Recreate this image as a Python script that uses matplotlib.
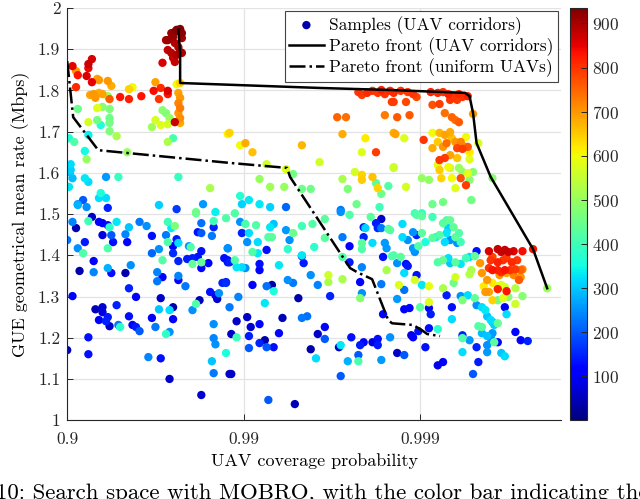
import matplotlib
matplotlib.use('Agg')
import matplotlib.pyplot as plt
import numpy as np

plt.rcParams['font.family'] = ['cmr10', 'DejaVu Serif']
plt.rcParams['mathtext.fontset'] = 'cm'
plt.rcParams['axes.formatter.use_mathtext'] = True

# samples: (coverage "nines" = -log10(1 - p), GUE rate in Mbps, iteration)
samples_top_left = [
    (1.56, 1.922, 900), (1.57, 1.922, 910), (1.59, 1.939, 915), (1.61, 1.942, 920), (1.62, 1.947, 930),
    (1.64, 1.949, 935), (1.65, 1.939, 925), (1.65, 1.927, 905), (1.61, 1.915, 890), (1.57, 1.898, 880),
    (1.59, 1.891, 885), (1.60, 1.879, 870), (1.61, 1.869, 875), (1.62, 1.886, 895), (1.64, 1.893, 905),
    (1.65, 1.891, 900), (1.54, 1.867, 860), (1.60, 1.930, 910), (1.63, 1.905, 890),
    (1.03, 1.859, 850), (1.14, 1.876, 860), (1.12, 1.864, 870), (1.12, 1.854, 845), (1.06, 1.837, 830),
    (1.11, 1.835, 860), (1.14, 1.820, 850), (1.05, 1.808, 810), (1.05, 1.847, 700), (1.17, 1.828, 690),
    (1.18, 1.825, 700), (1.23, 1.823, 700), (1.25, 1.811, 680), (1.13, 1.789, 690), (1.15, 1.791, 700),
    (1.18, 1.794, 680), (1.20, 1.791, 690), (1.16, 1.782, 700), (1.24, 1.779, 760), (1.30, 1.784, 830),
    (1.35, 1.779, 820), (1.42, 1.786, 830), (1.49, 1.799, 840), (1.53, 1.806, 810), (1.57, 1.799, 860),
    (1.57, 1.791, 830), (1.52, 1.779, 800), (1.50, 1.820, 690), (1.37, 1.808, 600), (1.35, 1.803, 640),
    (1.62, 1.815, 600), (1.64, 1.818, 640), (1.63, 1.794, 690), (1.64, 1.782, 700), (1.63, 1.769, 720),
    (1.64, 1.757, 730), (1.63, 1.745, 700), (1.64, 1.733, 710), (1.64, 1.721, 680), (1.61, 1.723, 880),
    (1.17, 1.757, 580), (1.20, 1.760, 480), (1.24, 1.755, 470), (1.06, 1.755, 450), (1.12, 1.723, 570),
    (1.17, 1.728, 460), (1.19, 1.716, 360), (1.24, 1.733, 450), (1.24, 1.721, 460), (1.24, 1.701, 470),
    (1.28, 1.689, 520), (1.23, 1.786, 510), (1.54, 1.752, 480), (1.56, 1.745, 470), (1.50, 1.728, 570),
    (1.48, 1.711, 510), (1.53, 1.716, 580), (1.57, 1.718, 570), (1.58, 1.733, 500), (1.57, 1.675, 520),
    (1.60, 1.684, 410), (1.34, 1.650, 500),
    (1.01, 1.684, 360), (1.04, 1.675, 420), (1.12, 1.692, 340), (1.10, 1.653, 350), (1.11, 1.633, 500),
    (1.02, 1.621, 320), (1.01, 1.602, 300), (1.02, 1.607, 310), (1.03, 1.587, 290), (1.10, 1.587, 330),
    (1.12, 1.578, 320), (1.01, 1.566, 330), (1.22, 1.590, 260), (1.29, 1.590, 390), (1.63, 1.590, 390),
    (1.81, 1.563, 520), (1.06, 1.524, 250), (1.09, 1.534, 200), (1.06, 1.522, 280), (1.11, 1.517, 250),
    (1.19, 1.551, 360), (1.18, 1.539, 320), (1.22, 1.539, 320), (1.23, 1.515, 150), (1.52, 1.522, 310),
    (1.62, 1.512, 170), (1.73, 1.505, 450), (1.77, 1.524, 260), (1.84, 1.505, 340), (1.91, 1.694, 610),
]

samples_top_mid = [
    (2.65, 1.796, 800), (2.67, 1.789, 790), (2.70, 1.794, 810), (2.73, 1.799, 800), (2.76, 1.794, 790),
    (2.78, 1.801, 820), (2.80, 1.791, 800), (2.83, 1.799, 810), (2.84, 1.772, 790), (2.53, 1.735, 750),
    (2.58, 1.735, 740), (2.80, 1.740, 730), (2.85, 1.697, 680), (2.56, 1.694, 680), (2.69, 1.684, 620),
    (2.67, 1.650, 580), (2.75, 1.650, 790), (2.33, 1.667, 670), (2.43, 1.626, 560), (1.92, 1.697, 640),
    (1.98, 1.667, 600), (2.01, 1.672, 680), (2.05, 1.650, 660), (2.13, 1.621, 560), (2.24, 1.609, 580),
    (2.28, 1.597, 460), (2.09, 1.585, 500), (2.15, 1.566, 510), (2.23, 1.566, 500), (2.33, 1.561, 450),
    (2.38, 1.561, 450), (2.56, 1.585, 520), (2.59, 1.561, 470), (2.63, 1.602, 570), (2.67, 1.595, 640),
    (2.67, 1.583, 650), (2.73, 1.590, 660), (2.76, 1.563, 640), (2.75, 1.575, 430), (2.82, 1.568, 420),
    (2.78, 1.549, 450), (2.64, 1.524, 450), (2.85, 1.614, 560), (1.98, 1.544, 370), (2.03, 1.534, 330),
    (1.99, 1.524, 310), (2.09, 1.524, 330), (2.15, 1.517, 310), (2.24, 1.517, 210), (2.55, 1.510, 230),
    (2.77, 1.517, 400),
]

samples_top_right = [
    (2.85, 1.794, 810), (2.89, 1.799, 800), (2.93, 1.796, 790), (2.96, 1.791, 800), (2.98, 1.784, 780),
    (3.06, 1.796, 820), (3.10, 1.794, 810), (3.13, 1.796, 800), (3.16, 1.791, 820), (3.19, 1.784, 800),
    (3.22, 1.791, 810), (3.24, 1.784, 800), (3.27, 1.786, 820), (2.85, 1.772, 790), (2.92, 1.772, 780),
    (3.07, 1.765, 770), (3.11, 1.767, 790), (3.17, 1.777, 800), (3.21, 1.777, 790),
    (2.87, 1.735, 760), (2.94, 1.740, 760), (3.14, 1.745, 740), (3.18, 1.735, 750), (3.20, 1.728, 740),
    (3.22, 1.723, 760), (3.30, 1.743, 700), (2.86, 1.694, 690), (2.91, 1.684, 580), (3.02, 1.680, 800),
    (3.07, 1.697, 600), (3.11, 1.697, 670), (3.14, 1.692, 690), (3.17, 1.699, 680), (3.18, 1.684, 660),
    (3.20, 1.675, 700), (3.23, 1.675, 720), (3.24, 1.667, 680), (3.26, 1.687, 600), (3.10, 1.675, 650),
    (3.13, 1.663, 700), (3.15, 1.672, 740), (3.21, 1.660, 780), (3.24, 1.658, 790), (3.27, 1.663, 760),
    (3.28, 1.650, 620), (3.07, 1.660, 680), (3.14, 1.636, 790), (3.11, 1.631, 800), (3.17, 1.643, 690),
    (3.21, 1.636, 660), (3.28, 1.633, 580), (3.10, 1.619, 580), (3.16, 1.614, 600), (3.17, 1.612, 540),
    (3.22, 1.612, 500), (3.24, 1.602, 480), (3.27, 1.599, 580), (3.30, 1.602, 480), (3.11, 1.607, 650),
    (2.85, 1.612, 520), (3.01, 1.587, 500), (3.05, 1.583, 490), (3.12, 1.587, 640), (3.18, 1.587, 600),
    (3.23, 1.587, 770), (3.28, 1.583, 480), (3.20, 1.563, 580), (3.26, 1.570, 790), (2.92, 1.566, 570),
    (3.41, 1.587, 480), (3.13, 1.529, 460), (3.07, 1.524, 450), (2.97, 1.502, 400), (3.01, 1.502, 380),
    (3.33, 1.672, 570), (3.29, 1.534, 460),
]

samples_low_left = [
    (1.03, 1.481, 240), (1.05, 1.466, 40), (1.00, 1.437, 230), (1.06, 1.417, 250), (1.10, 1.432, 140),
    (1.09, 1.405, 420), (1.14, 1.493, 60), (1.12, 1.483, 400), (1.18, 1.481, 110), (1.20, 1.478, 100),
    (1.23, 1.473, 130), (1.24, 1.468, 380), (1.28, 1.481, 330), (1.20, 1.449, 80), (1.25, 1.449, 200),
    (1.26, 1.432, 130), (1.23, 1.417, 420), (1.33, 1.451, 240), (1.35, 1.468, 300), (1.34, 1.432, 120),
    (1.41, 1.481, 230), (1.45, 1.471, 250), (1.48, 1.447, 130), (1.48, 1.405, 210), (1.52, 1.415, 250),
    (1.56, 1.449, 230), (1.57, 1.481, 400), (1.61, 1.471, 470), (1.59, 1.466, 330), (1.62, 1.439, 140),
    (1.63, 1.430, 320), (1.57, 1.432, 420), (1.60, 1.422, 120), (1.60, 1.405, 160), (1.54, 1.388, 420),
    (1.63, 1.386, 150), (1.68, 1.391, 140), (1.71, 1.393, 140), (1.74, 1.396, 130), (1.69, 1.422, 250),
    (1.70, 1.420, 420), (1.71, 1.379, 440), (1.76, 1.383, 440), (1.76, 1.410, 130), (1.76, 1.369, 120),
    (1.80, 1.381, 120), (1.74, 1.456, 130), (1.76, 1.454, 200), (1.76, 1.478, 220), (1.83, 1.468, 150),
    (1.82, 1.447, 230), (1.83, 1.483, 400), (1.90, 1.490, 420), (1.73, 1.502, 440), (1.91, 1.417, 250),
    (1.89, 1.393, 130), (1.91, 1.383, 130), (1.07, 1.362, 40), (1.15, 1.359, 240), (1.15, 1.386, 110),
    (1.23, 1.369, 280), (1.25, 1.357, 130), (1.33, 1.357, 40), (1.36, 1.376, 250), (1.35, 1.320, 150),
    (1.39, 1.299, 110), (1.28, 1.279, 150), (1.16, 1.269, 50), (1.20, 1.274, 70), (1.20, 1.262, 80),
    (1.18, 1.243, 100), (1.23, 1.250, 140), (1.22, 1.240, 150), (1.24, 1.228, 60), (1.29, 1.231, 230),
    (1.30, 1.226, 380), (1.35, 1.252, 130), (1.37, 1.231, 110), (1.39, 1.226, 140), (1.41, 1.216, 200),
    (1.03, 1.301, 110), (1.53, 1.296, 60), (1.52, 1.269, 300), (1.48, 1.248, 110), (1.50, 1.226, 230),
    (1.60, 1.274, 40), (1.58, 1.267, 320), (1.60, 1.245, 120), (1.56, 1.209, 380), (1.58, 1.214, 250),
    (1.51, 1.337, 230), (1.54, 1.347, 120), (1.51, 1.359, 240), (1.63, 1.350, 240), (1.63, 1.340, 120),
    (1.67, 1.325, 230), (1.81, 1.311, 130), (1.84, 1.303, 80), (1.85, 1.294, 60), (1.86, 1.308, 250),
    (1.88, 1.333, 150), (1.90, 1.333, 160), (1.75, 1.291, 50), (1.73, 1.282, 420), (1.71, 1.267, 250),
    (1.83, 1.233, 250), (1.83, 1.199, 240), (1.84, 1.184, 250), (1.90, 1.163, 360), (1.82, 1.143, 300),
    (1.83, 1.114, 230), (1.00, 1.170, 50), (1.12, 1.201, 130), (1.12, 1.160, 130), (1.46, 1.153, 240),
    (1.53, 1.150, 130), (1.58, 1.100, 60), (1.76, 1.061, 70), (1.92, 1.112, 60),
]

samples_low_mid = [
    (1.95, 1.502, 420), (1.98, 1.481, 250), (2.01, 1.476, 410), (2.07, 1.473, 420), (1.99, 1.454, 150),
    (2.03, 1.454, 320), (2.02, 1.432, 250), (2.08, 1.432, 320), (2.15, 1.468, 330), (2.17, 1.476, 300),
    (2.14, 1.444, 420), (2.16, 1.444, 430), (2.24, 1.461, 260), (2.28, 1.454, 450), (2.26, 1.437, 250),
    (2.33, 1.471, 400), (2.39, 1.476, 420), (2.46, 1.488, 430), (2.46, 1.442, 430), (2.40, 1.420, 380),
    (2.25, 1.415, 380), (2.13, 1.413, 130), (2.05, 1.408, 420), (2.08, 1.405, 330), (1.91, 1.417, 230),
    (1.91, 1.388, 120), (1.92, 1.383, 150), (1.95, 1.388, 420), (1.96, 1.371, 330), (1.99, 1.371, 320),
    (2.01, 1.369, 250), (2.09, 1.379, 130), (2.09, 1.364, 120), (2.20, 1.376, 330), (2.33, 1.398, 130),
    (2.33, 1.400, 330), (2.34, 1.381, 140), (2.38, 1.352, 250), (2.42, 1.328, 240), (2.49, 1.301, 150),
    (2.48, 1.352, 560), (2.48, 1.335, 520), (2.56, 1.342, 520), (2.05, 1.328, 120), (2.13, 1.325, 220),
    (2.16, 1.328, 40), (2.17, 1.313, 360), (2.25, 1.340, 250), (2.28, 1.333, 230), (2.31, 1.296, 40),
    (1.90, 1.335, 130), (1.97, 1.299, 240), (1.92, 1.274, 230), (2.12, 1.284, 330), (2.02, 1.250, 60),
    (1.96, 1.240, 60), (2.04, 1.226, 70), (2.09, 1.233, 120), (2.22, 1.248, 50), (2.33, 1.248, 230),
    (2.36, 1.252, 220), (2.46, 1.226, 120), (1.93, 1.209, 60), (1.96, 1.201, 400), (2.03, 1.204, 140),
    (2.12, 1.194, 40), (2.09, 1.187, 150), (2.13, 1.177, 200), (2.17, 1.177, 130), (2.03, 1.175, 200),
    (2.20, 1.211, 120), (2.42, 1.209, 60), (2.46, 1.197, 200), (2.38, 1.172, 40), (2.41, 1.150, 320),
    (2.54, 1.177, 60), (2.55, 1.182, 330), (2.61, 1.201, 130), (2.66, 1.182, 140), (2.68, 1.189, 120),
    (2.73, 1.189, 80), (2.76, 1.182, 140), (2.76, 1.197, 130), (2.65, 1.158, 200), (2.65, 1.143, 410),
    (2.59, 1.143, 280), (2.78, 1.146, 260), (2.83, 1.201, 250), (2.55, 1.107, 200), (1.93, 1.112, 60),
    (2.14, 1.049, 200), (2.29, 1.039, 50), (2.56, 1.444, 230), (2.60, 1.422, 120), (2.56, 1.396, 420),
    (2.60, 1.383, 140), (2.67, 1.371, 240), (2.66, 1.335, 120), (2.67, 1.308, 250), (2.66, 1.296, 480),
    (2.79, 1.257, 110), (2.78, 1.330, 230), (2.81, 1.364, 520), (2.79, 1.396, 130), (2.84, 1.398, 420),
    (2.67, 1.415, 420), (2.67, 1.430, 430), (2.68, 1.444, 150), (2.73, 1.430, 320), (2.80, 1.430, 260),
    (2.81, 1.417, 260), (2.69, 1.466, 310), (2.68, 1.468, 140), (2.75, 1.478, 140), (2.78, 1.488, 60),
    (2.76, 1.466, 150), (2.78, 1.466, 230), (2.72, 1.493, 430), (2.82, 1.464, 430), (2.60, 1.498, 420),
    (2.55, 1.505, 250),
]

samples_low_right = [
    (2.98, 1.498, 420), (3.01, 1.495, 430), (3.07, 1.493, 400), (2.90, 1.476, 320), (2.83, 1.461, 420),
    (2.90, 1.444, 320), (2.96, 1.456, 250), (2.98, 1.449, 150), (3.01, 1.454, 430), (2.93, 1.437, 250),
    (2.96, 1.417, 260), (2.97, 1.408, 250), (2.99, 1.422, 420), (3.03, 1.432, 360), (3.07, 1.442, 430),
    (3.09, 1.444, 340), (3.11, 1.449, 420), (3.13, 1.478, 430), (3.15, 1.485, 420), (3.17, 1.485, 440),
    (3.16, 1.466, 310), (3.15, 1.454, 330), (3.14, 1.432, 320), (3.17, 1.437, 250), (3.20, 1.444, 430),
    (3.22, 1.454, 420), (3.23, 1.432, 400), (3.21, 1.430, 250), (3.19, 1.468, 440), (2.85, 1.400, 420),
    (2.89, 1.396, 430), (2.87, 1.381, 250), (2.92, 1.379, 130), (2.93, 1.374, 140), (2.91, 1.357, 320),
    (2.98, 1.352, 130), (2.88, 1.328, 580), (2.91, 1.316, 220), (2.97, 1.340, 570), (3.01, 1.328, 330),
    (3.05, 1.325, 590), (2.87, 1.294, 260), (2.91, 1.269, 110), (2.94, 1.272, 120), (3.05, 1.286, 580),
    (3.00, 1.274, 430), (3.05, 1.272, 120), (3.06, 1.257, 140), (3.18, 1.274, 130), (3.15, 1.303, 140),
    (3.18, 1.245, 320), (3.10, 1.383, 420), (3.13, 1.388, 440), (3.16, 1.393, 320), (3.17, 1.381, 300),
    (3.20, 1.383, 430), (3.23, 1.379, 330), (3.26, 1.393, 400), (3.28, 1.396, 320), (3.31, 1.398, 440),
    (3.13, 1.320, 520), (3.20, 1.347, 570), (3.19, 1.333, 450), (3.23, 1.301, 250), (3.27, 1.303, 320),
    (3.24, 1.291, 470), (3.29, 1.364, 520), (3.28, 1.354, 530), (3.32, 1.410, 130), (3.34, 1.381, 700),
    (3.35, 1.357, 700),
    (3.39, 1.410, 860), (3.44, 1.415, 880), (3.46, 1.408, 870), (3.48, 1.413, 880), (3.50, 1.408, 870),
    (3.53, 1.410, 860), (3.58, 1.410, 840), (3.64, 1.415, 830), (3.40, 1.388, 800), (3.41, 1.396, 780),
    (3.44, 1.383, 820), (3.47, 1.388, 800), (3.49, 1.393, 790), (3.52, 1.383, 810), (3.55, 1.388, 800),
    (3.39, 1.369, 800), (3.41, 1.364, 830), (3.44, 1.364, 820), (3.46, 1.359, 810), (3.48, 1.364, 830),
    (3.51, 1.364, 800), (3.54, 1.366, 790), (3.57, 1.364, 750), (3.58, 1.366, 720), (3.45, 1.352, 700),
    (3.49, 1.357, 690), (3.53, 1.352, 720), (3.57, 1.347, 700), (3.56, 1.340, 760), (3.38, 1.340, 700),
    (3.41, 1.333, 620), (3.44, 1.325, 580), (3.44, 1.318, 820), (3.49, 1.313, 830), (3.36, 1.325, 620),
    (3.37, 1.311, 700), (3.39, 1.311, 690), (3.41, 1.291, 640), (3.46, 1.328, 580), (3.48, 1.323, 570),
    (3.54, 1.320, 530), (3.47, 1.296, 580), (3.50, 1.299, 480), (3.44, 1.291, 450), (3.58, 1.301, 480),
    (3.54, 1.282, 560), (3.31, 1.296, 440), (3.32, 1.279, 250), (3.35, 1.274, 320), (3.37, 1.267, 330),
    (3.38, 1.252, 300), (3.40, 1.243, 320), (3.41, 1.238, 270), (3.42, 1.231, 310), (3.44, 1.235, 440),
    (3.49, 1.257, 320), (3.48, 1.274, 100), (3.33, 1.228, 420), (3.35, 1.226, 430), (3.35, 1.211, 290),
    (3.38, 1.204, 300), (3.40, 1.199, 250), (3.41, 1.211, 260), (3.42, 1.189, 430), (3.44, 1.189, 110),
    (3.38, 1.182, 250), (3.38, 1.165, 260), (3.24, 1.206, 150), (3.24, 1.199, 420), (3.28, 1.194, 260),
    (3.32, 1.177, 150), (3.24, 1.165, 320), (3.46, 1.163, 300), (3.48, 1.155, 320), (3.54, 1.214, 120),
    (3.57, 1.194, 110), (3.61, 1.192, 150), (3.33, 1.141, 140), (3.30, 1.112, 200), (3.10, 1.133, 90),
    (3.13, 1.141, 100), (3.03, 1.177, 130), (2.87, 1.163, 60), (2.91, 1.158, 200), (2.96, 1.201, 110),
    (2.95, 1.206, 80), (2.99, 1.216, 130), (3.05, 1.223, 130), (3.10, 1.221, 380), (3.72, 1.320, 500),
]

# Pareto fronts (nines, rate)
pareto_corridor_x = [1.63, 1.64, 1.64, 2.43, 2.83, 3.255, 3.28, 3.30, 3.32, 3.40, 3.64, 3.72]
pareto_corridor_y = [1.947, 1.891, 1.818, 1.806, 1.801, 1.794, 1.786, 1.745, 1.672, 1.590, 1.415, 1.320]
pareto_uniform_x = [1.0, 1.034, 1.176, 1.924, 2.246, 2.263, 2.603, 2.643, 2.728, 2.819, 2.841, 2.960,
                    3.011, 3.040, 3.113]
pareto_uniform_y = [1.871, 1.735, 1.655, 1.624, 1.612, 1.590, 1.369, 1.359, 1.342, 1.243, 1.235, 1.231,
                    1.218, 1.209, 1.204]

x_ticks = [0.9, 0.99, 0.999]
y_ticks = [1, 1.1, 1.2, 1.3, 1.4, 1.5, 1.6, 1.7, 1.8, 1.9, 2]
cbar_ticks = [100, 200, 300, 400, 500, 600, 700, 800, 900]

all_samples = np.array(samples_top_left + samples_top_mid + samples_top_right
                       + samples_low_left + samples_low_mid + samples_low_right)
# draw older iterations first, newest on top
all_samples = all_samples[np.argsort(all_samples[:, 2], kind='stable')]


def to_prob(nines):
    return 1 - 10 ** (-np.asarray(nines, dtype=float))


def fwd(p):
    return -np.log10(np.clip(1 - p, 1e-12, None))


def inv(n):
    return 1 - 10 ** (-n)


fig = plt.figure(figsize=(6.4, 4.99), dpi=100)
ax = fig.add_axes([0.105, 0.158, 0.772, 0.826])
cax = fig.add_axes([0.891, 0.158, 0.026, 0.826])

ax.set_xscale('function', functions=(fwd, inv))

sc = ax.scatter(to_prob(all_samples[:, 0]), all_samples[:, 1], c=all_samples[:, 2],
                cmap='jet', vmin=1, vmax=935, s=36, edgecolors='none', zorder=2,
                label='Samples (UAV corridors)')
ax.plot(to_prob(pareto_corridor_x), pareto_corridor_y, color='black', lw=1.8, zorder=3,
        label='Pareto front (UAV corridors)')
ax.plot(to_prob(pareto_uniform_x), pareto_uniform_y, color='black', lw=1.8, ls='-.', zorder=3,
        label='Pareto front (uniform UAVs)')

ax.set_xlim(0.9, inv(3.8))
ax.set_ylim(1, 2)
ax.set_xticks(x_ticks)
ax.set_xticklabels([f'{v:g}' for v in x_ticks])
ax.set_yticks(y_ticks)
ax.set_yticklabels([f'{v:g}' for v in y_ticks])
ax.minorticks_off()
ax.tick_params(direction='in', length=4, width=0.7, colors='#262626', labelsize=12.5)
ax.tick_params(axis='x', pad=8)
ax.tick_params(axis='y', pad=5)
ax.grid(True, color='#e3e3e3', lw=0.9)
ax.set_axisbelow(True)
for side in ['top', 'right']:
    ax.spines[side].set_visible(False)
for side in ['left', 'bottom']:
    ax.spines[side].set_color('#262626')
    ax.spines[side].set_linewidth(0.8)

ax.set_xlabel('UAV coverage probability', fontsize=13, labelpad=5)
ax.set_ylabel('GUE geometrical mean rate (Mbps)', fontsize=13, labelpad=6)

leg = ax.legend(loc='upper right', fontsize=12.5, fancybox=False, framealpha=1,
                edgecolor='#444444', borderpad=0.25, labelspacing=0.15,
                handlelength=2.0, handletextpad=0.3, borderaxespad=0.2)
leg.get_frame().set_linewidth(0.8)

cb = fig.colorbar(sc, cax=cax)
cb.set_ticks(cbar_ticks)
cb.ax.tick_params(direction='in', length=4, width=0.7, labelsize=12.5, colors='#262626')
cb.outline.set_linewidth(0.8)
cb.outline.set_edgecolor('#262626')

fig.text(-0.006, 0.032, '10: Search space with MOBRO, with the color bar indicating the',
         fontsize=16.5, ha='left', va='top')

fig.savefig('out.png', dpi=100)
